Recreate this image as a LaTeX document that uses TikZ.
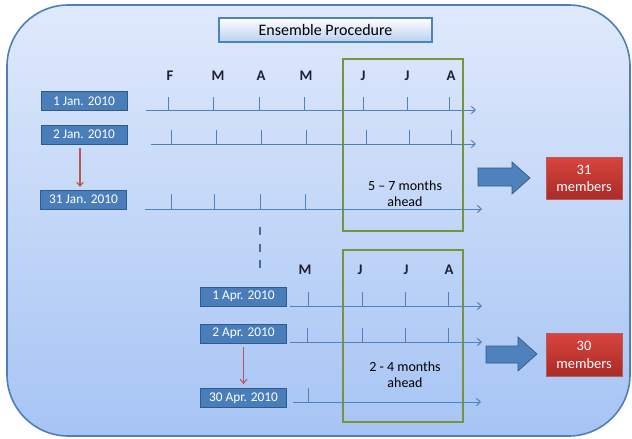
\documentclass[tikz,border=0pt]{standalone}
\usepackage{fontspec}
\setmainfont{Carlito}
\usetikzlibrary{arrows.meta}
\definecolor{bgtop}{HTML}{DFE9FB}
\definecolor{bgbot}{HTML}{A6C4F4}
\definecolor{frameblue}{HTML}{4F7FB8}
\definecolor{boxblue}{HTML}{4A7EBB}
\definecolor{boxedge}{HTML}{2F5A8C}
\definecolor{lineblue}{HTML}{4F81BD}
\definecolor{redtop}{HTML}{D9443E}
\definecolor{redbot}{HTML}{A92B27}
\definecolor{rededge}{HTML}{B95C58}
\definecolor{grn}{HTML}{77933C}
\definecolor{titlebot}{HTML}{B9D0F0}
\definecolor{monthc}{HTML}{1F1F2F}
\tikzset{
  datebox/.style={draw=boxedge, line width=0.6pt, fill=boxblue, text=white, inner sep=0pt,
    minimum width=64.5pt, minimum height=14.25pt, font=\fontsize{10}{12}\selectfont},
  redbox/.style={draw=rededge, line width=0.6pt, top color=redtop, bottom color=redbot, text=white,
    inner sep=0pt, minimum width=57pt, minimum height=32pt, align=center,
    font=\fontsize{10.8}{13}\selectfont},
  monthlbl/.style={font=\fontsize{11}{13}\selectfont\bfseries, text=monthc, inner sep=0pt},
  tline/.style={draw=lineblue, line width=0.75pt, -{Straight Barb[length=3pt,width=5.5pt]}},
  tick/.style={draw=lineblue, line width=0.75pt},
  greenbox/.style={draw=grn, line width=1.6pt},
  redarrow/.style={draw=redbot!80!white, line width=0.8pt, -{Straight Barb[length=3pt,width=5pt]}},
  blockarrow/.style={fill=lineblue, draw=boxedge, line width=0.5pt},
  note/.style={align=center, font=\fontsize{10.5}{12}\selectfont, inner sep=0pt}
}
\begin{document}
\begin{tikzpicture}[x=0.75pt,y=-0.75pt]
\useasboundingbox (0,0) rectangle (632,439);
% background panel
\draw[draw=frameblue, line width=1.2pt, top color=bgtop, bottom color=bgbot, rounded corners=46pt]
  (7,5) rectangle (630,436);
% title
\node[draw=lineblue, line width=0.8pt, top color=white, bottom color=titlebot, inner sep=0pt,
  minimum width=159.75pt, minimum height=18pt, font=\fontsize{12}{14}\selectfont] (title) at (325.5,30) {Ensemble Procedure};

% green boxes
\draw[greenbox] (343,59) rectangle (463,231);
\draw[greenbox] (343,250) rectangle (463,422);

% month labels group 1
\node[monthlbl] (m1) at (170,76) {F};
\node[monthlbl] (m2) at (218,76) {M};
\node[monthlbl] (m3) at (261,76) {A};
\node[monthlbl] (m4) at (306,76) {M};
\node[monthlbl] (m5) at (363,76) {J};
\node[monthlbl] (m6) at (407,76) {J};
\node[monthlbl] (m7) at (451,76) {A};

% date boxes group 1
\node[datebox] (d1) at (84,101) {1 Jan. 2010};
\node[datebox] (d2) at (84,134.5) {2 Jan. 2010};
\node[datebox] (d3) at (83.5,199.5) {31 Jan. 2010};
\draw[redarrow, shorten <=3pt, shorten >=2pt] (d2.south -| 80,0) -- (d3.north -| 80,0);

% timelines group 1
\coordinate (a1) at (146,110); \coordinate (b1) at (476,110);
\coordinate (a2) at (151,144); \coordinate (b2) at (476,144);
\coordinate (a3) at (145,209); \coordinate (b3) at (482,209);
\draw[tline] (a1) -- (b1);
\draw[tline] (a2) -- (b2);
\draw[tline] (a3) -- (b3);
\foreach \x in {168,213,259,304,363,407,449} \draw[tick] (\x,97) -- (\x,110);
\foreach \x in {171,216,261,306,366,409,451} \draw[tick] (\x,130) -- (\x,144);
\foreach \x in {171,214,260,305} \draw[tick] (\x,194) -- (\x,209);

\node[note] (n1) at (405,194) {5 -- 7 months\\ahead};

% block arrow 1
\draw[blockarrow] (478,168) -- (512,168) -- (512,162) -- (530,178) -- (512,194) -- (512,186) -- (478,186) -- cycle;
\node[redbox] (r1) at (584,178.5) {31\\members};

% dashed separator
\coordinate (s1) at (260,227); \coordinate (s2) at (260,270);
\draw[draw=lineblue!85!black, line width=1.8pt, dash pattern=on 6pt off 6.5pt] (s1) -- (s2);

% month labels group 2
\node[monthlbl] (p1) at (305,270) {M};
\node[monthlbl] (p2) at (360,270) {J};
\node[monthlbl] (p3) at (406,270) {J};
\node[monthlbl] (p4) at (449,270) {A};

% date boxes group 2
\node[datebox] (e1) at (243.5,296.5) {1 Apr. 2010};
\node[datebox] (e2) at (243.5,333.5) {2 Apr. 2010};
\node[datebox] (e3) at (243.5,398) {30 Apr. 2010};
\draw[redarrow, shorten <=3pt, shorten >=3pt] (e2.south) -- (e3.north);

% timelines group 2
\coordinate (a4) at (290,306); \coordinate (b4) at (482,306);
\coordinate (a5) at (290,342); \coordinate (b5) at (482,342);
\coordinate (a6) at (293,402); \coordinate (b6) at (481,402);
\draw[tline] (a4) -- (b4);
\draw[tline] (a5) -- (b5);
\draw[tline] (a6) -- (b6);
\foreach \x in {308,362,405,448} \draw[tick] (\x,292) -- (\x,306);
\foreach \x in {307,362,405,448} \draw[tick] (\x,328) -- (\x,342);
\draw[tick] (308,388) -- (308,402);

\node[note] (n2) at (405,375) {2 - 4 months\\ahead};

% block arrow 2
\draw[blockarrow] (486,346) -- (518,346) -- (518,337) -- (537,354) -- (518,371) -- (518,363) -- (486,363) -- cycle;
\node[redbox] (r2) at (584,355) {30\\members};
\end{tikzpicture}
\end{document}
